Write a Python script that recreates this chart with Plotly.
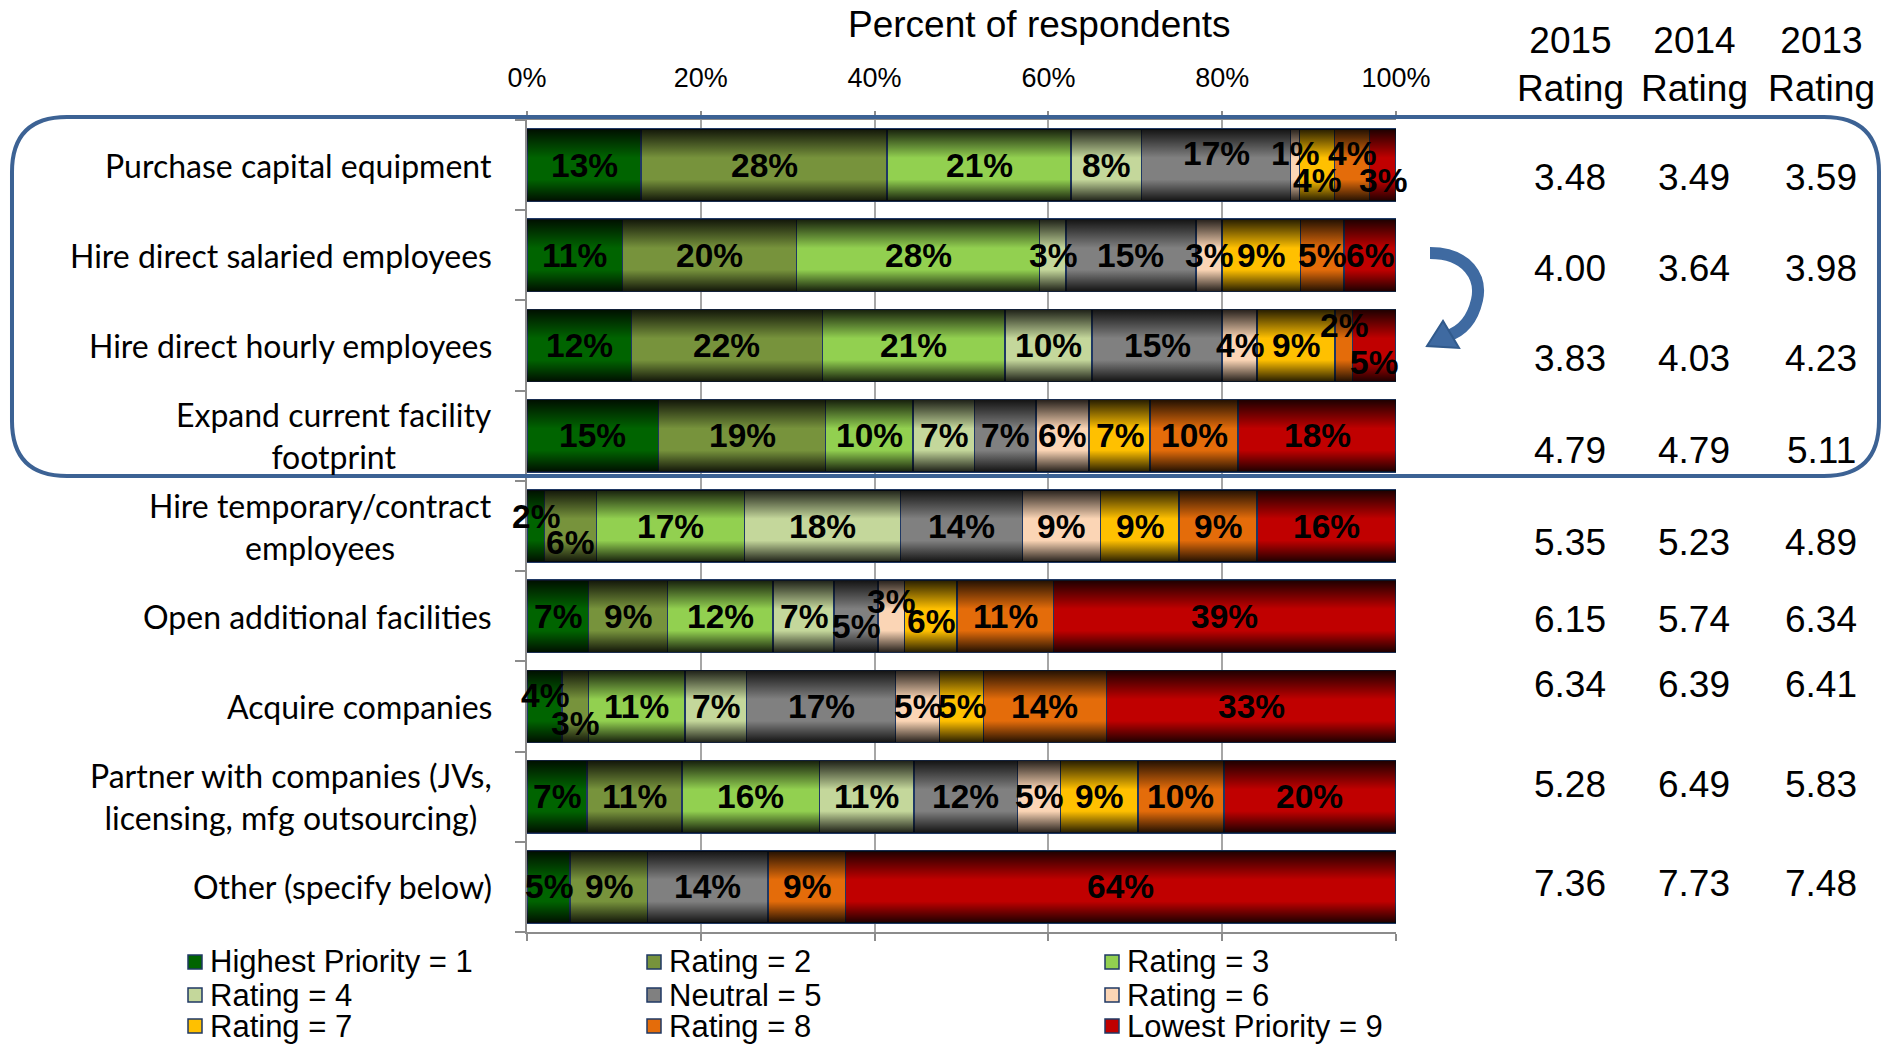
import plotly.graph_objects as go

# ---- data -------------------------------------------------------------
categories = [
    "Purchase capital equipment",
    "Hire direct salaried employees",
    "Hire direct hourly employees",
    "Expand current facility<br>footprint",
    "Hire temporary/contract<br>employees",
    "Open additional facilities",
    "Acquire companies",
    "Partner with companies (JVs,<br>licensing, mfg outsourcing)",
    "Other (specify below)",
]

series_names = [
    "Highest Priority = 1", "Rating = 2", "Rating = 3",
    "Rating = 4", "Neutral = 5", "Rating = 6",
    "Rating = 7", "Rating = 8", "Lowest Priority = 9",
]

rating_1 = [13, 11, 12, 15, 2, 7, 4, 7, 5]
rating_2 = [28, 20, 22, 19, 6, 9, 3, 11, 9]
rating_3 = [21, 28, 21, 10, 17, 12, 11, 16, 0]
rating_4 = [8, 3, 10, 7, 18, 7, 7, 11, 0]
rating_5 = [17, 15, 15, 7, 14, 5, 17, 12, 14]
rating_6 = [1, 3, 4, 6, 9, 3, 5, 5, 0]
rating_7 = [4, 9, 9, 7, 9, 6, 5, 9, 0]
rating_8 = [4, 5, 2, 10, 9, 11, 14, 10, 9]
rating_9 = [3, 6, 5, 18, 16, 39, 33, 20, 64]

series_values = [rating_1, rating_2, rating_3, rating_4, rating_5,
                 rating_6, rating_7, rating_8, rating_9]

avg_2015 = [3.48, 4.00, 3.83, 4.79, 5.35, 6.15, 6.34, 5.28, 7.36]
avg_2014 = [3.49, 3.64, 4.03, 4.79, 5.23, 5.74, 6.39, 6.49, 7.73]
avg_2013 = [3.59, 3.98, 4.23, 5.11, 4.89, 6.34, 6.41, 5.83, 7.48]
year_headers = ["2015<br>Rating", "2014<br>Rating", "2013<br>Rating"]

x_ticks = [0, 20, 40, 60, 80, 100]

# ---- styling ----------------------------------------------------------
colors = ["#006400", "#77933c", "#92d050", "#c4d79b", "#808080",
          "#fbd5b5", "#ffc000", "#e46c0a", "#c00000"]
ARIAL = "Liberation Sans, Arial, sans-serif"
LABEL_FONT = "Lato, Carlito, Calibri, sans-serif"

W, H = 1884, 1044
L, R, T, B = 527, 1396, 120, 932
BAR_W = 0.8

# vertical nudges (px, positive = down) for crowded segment labels
label_nudge = {
    (0, 4): -12, (0, 5): -12, (0, 6): 15, (0, 7): -12, (0, 8): 15,
    (2, 7): -20, (2, 8): 17,
    (4, 0): -10, (4, 1): 16,
    (5, 4): 10, (5, 5): -15, (5, 6): 5,
    (6, 0): -11, (6, 1): 17,
}
# vertical offsets (px) of the rating table rows against the bar rows
rating_row_offset = [12, 13, 13, 15, 16, 3, -22, -12, -3]
rating_cols_px = [1570, 1694, 1821]


def px(x):
    return (x - L) / (R - L)


def py(y):
    return (B - y) / (B - T)


rows = list(range(len(categories)))

fig = go.Figure()

for name, vals, col in zip(series_names, series_values, colors):
    fig.add_trace(go.Bar(
        y=rows, x=vals, name=name, orientation="h", width=BAR_W,
        marker=dict(color=col, line=dict(color="#1f3864", width=1.5)),
        showlegend=False, hoverinfo="name+x",
    ))

# shading band over each bar (dark at top and bottom edges)
shade = [[0.0, "rgba(0,0,0,0.85)"], [0.3, "rgba(0,0,0,0)"],
         [0.6, "rgba(0,0,0,0)"], [1.0, "rgba(0,0,0,0.85)"]]
for i in rows:
    h = BAR_W / 2
    fig.add_trace(go.Scatter(
        x=[0, 100, 100, 0, 0], y=[i - h, i - h, i + h, i + h, i - h],
        mode="lines", line=dict(width=0), fill="toself",
        fillgradient=dict(type="vertical", colorscale=shade),
        hoverinfo="skip", showlegend=False,
    ))

annotations = []


def note(**kw):
    kw.setdefault("showarrow", False)
    kw.setdefault("xanchor", "center")
    kw.setdefault("yanchor", "middle")
    annotations.append(kw)


# percentage labels centred in each segment
for i in rows:
    total = sum(v[i] for v in series_values)
    cum = 0
    for k, vals in enumerate(series_values):
        v = vals[i]
        if v > 0:
            note(x=(cum + v / 2) / total * 100, y=i, xref="x", yref="y",
                 text=f"{v}%", yshift=-label_nudge.get((i, k), 0),
                 font=dict(family=ARIAL, size=33.5, color="black",
                           weight="bold"))
        cum += v

# category labels
for i, cat in enumerate(categories):
    note(x=px(494), xref="paper", y=i, yref="y", text=cat,
         xanchor="right", align="center",
         font=dict(family=LABEL_FONT, size=32, color="black"))

# rating table
for cx, head, vals in zip(rating_cols_px, year_headers,
                          [avg_2015, avg_2014, avg_2013]):
    note(x=px(cx), xref="paper", y=py(64), yref="paper", text=head,
         font=dict(family=ARIAL, size=37, color="black"))
    for i, v in enumerate(vals):
        note(x=px(cx), xref="paper", y=i, yref="y", text=f"{v:.2f}",
             yshift=-rating_row_offset[i],
             font=dict(family=ARIAL, size=37, color="black"))

note(x=px(1039), xref="paper", y=py(25), yref="paper",
     text="Percent of respondents",
     font=dict(family=ARIAL, size=37, color="black"))

shapes = []

# legend: 3 columns x 3 rows
leg_cols = [195, 654, 1112]
leg_rows = [962, 995, 1026]
for k, (name, col) in enumerate(zip(series_names, colors)):
    cx, cy = leg_cols[k % 3], leg_rows[k // 3]
    shapes.append(dict(
        type="rect", xref="paper", yref="paper",
        x0=px(cx - 7), x1=px(cx + 7), y0=py(cy + 7), y1=py(cy - 7),
        fillcolor=col, line=dict(color="#1f3864", width=1.5),
    ))
    note(x=px(cx + 13), xref="paper", y=py(cy), yref="paper", text=name,
         xanchor="left", font=dict(family=ARIAL, size=31, color="black"))


def to_path(cmds):
    out = []
    for c in cmds:
        if isinstance(c, str):
            out.append(c)
        else:
            out.append(f"{px(c[0]):.5f},{py(c[1]):.5f}")
    return " ".join(out)


# rounded frame around the top four rows
x0, x1, y0, y1, r = 12, 1879, 117, 476, 55
frame = to_path([
    "M", (x0 + r, y0), "L", (x1 - r, y0), "Q", (x1, y0), (x1, y0 + r),
    "L", (x1, y1 - r), "Q", (x1, y1), (x1 - r, y1),
    "L", (x0 + r, y1), "Q", (x0, y1), (x0, y1 - r),
    "L", (x0, y0 + r), "Q", (x0, y0), (x0 + r, y0), "Z",
])
shapes.append(dict(type="path", xref="paper", yref="paper", path=frame,
                   line=dict(color="#3c6294", width=4), layer="above"))

# curved arrow between the rating rows
arc = to_path([
    "M", (1430, 253), "C", (1468, 253), (1482, 278), (1477, 300),
    "C", (1472, 322), (1460, 332), (1447, 336),
])
shapes.append(dict(type="path", xref="paper", yref="paper", path=arc,
                   line=dict(color="#3f6aa1", width=12)))
head = to_path(["M", (1427, 346), "L", (1443, 321), "L", (1459, 348), "Z"])
shapes.append(dict(type="path", xref="paper", yref="paper", path=head,
                   fillcolor="#3f6aa1", line=dict(color="#315a8c", width=2)))

fig.update_layout(
    width=W, height=H,
    margin=dict(l=L, r=W - R, t=T, b=H - B, pad=0),
    barmode="stack", barnorm="percent", bargap=0.2,
    plot_bgcolor="white", paper_bgcolor="white",
    showlegend=False,
    annotations=annotations, shapes=shapes,
    xaxis=dict(
        range=[0, 100], side="top", tickvals=x_ticks,
        ticktext=[f"{t}%" for t in x_ticks],
        ticks="outside", ticklen=7, tickcolor="#8c8c8c", tickwidth=1.5,
        mirror="ticks", showline=True, linecolor="#8c8c8c", linewidth=1.5,
        showgrid=True, gridcolor="#a6a6a6", gridwidth=1.5, zeroline=False,
        tickfont=dict(family=ARIAL, size=27, color="black"),
        ticklabelstandoff=13, fixedrange=True,
    ),
    yaxis=dict(
        range=[len(categories) - 0.5, -0.5], showticklabels=False,
        tickvals=rows, ticks="", showgrid=False, zeroline=False,
        showline=True, linecolor="#8c8c8c", linewidth=2,
        minor=dict(tickvals=[i - 0.5 for i in range(len(categories) + 1)],
                   ticks="outside", ticklen=10, tickcolor="#8c8c8c",
                   tickwidth=1.5, showgrid=False),
        fixedrange=True,
    ),
)

fig.write_html("out.html")
